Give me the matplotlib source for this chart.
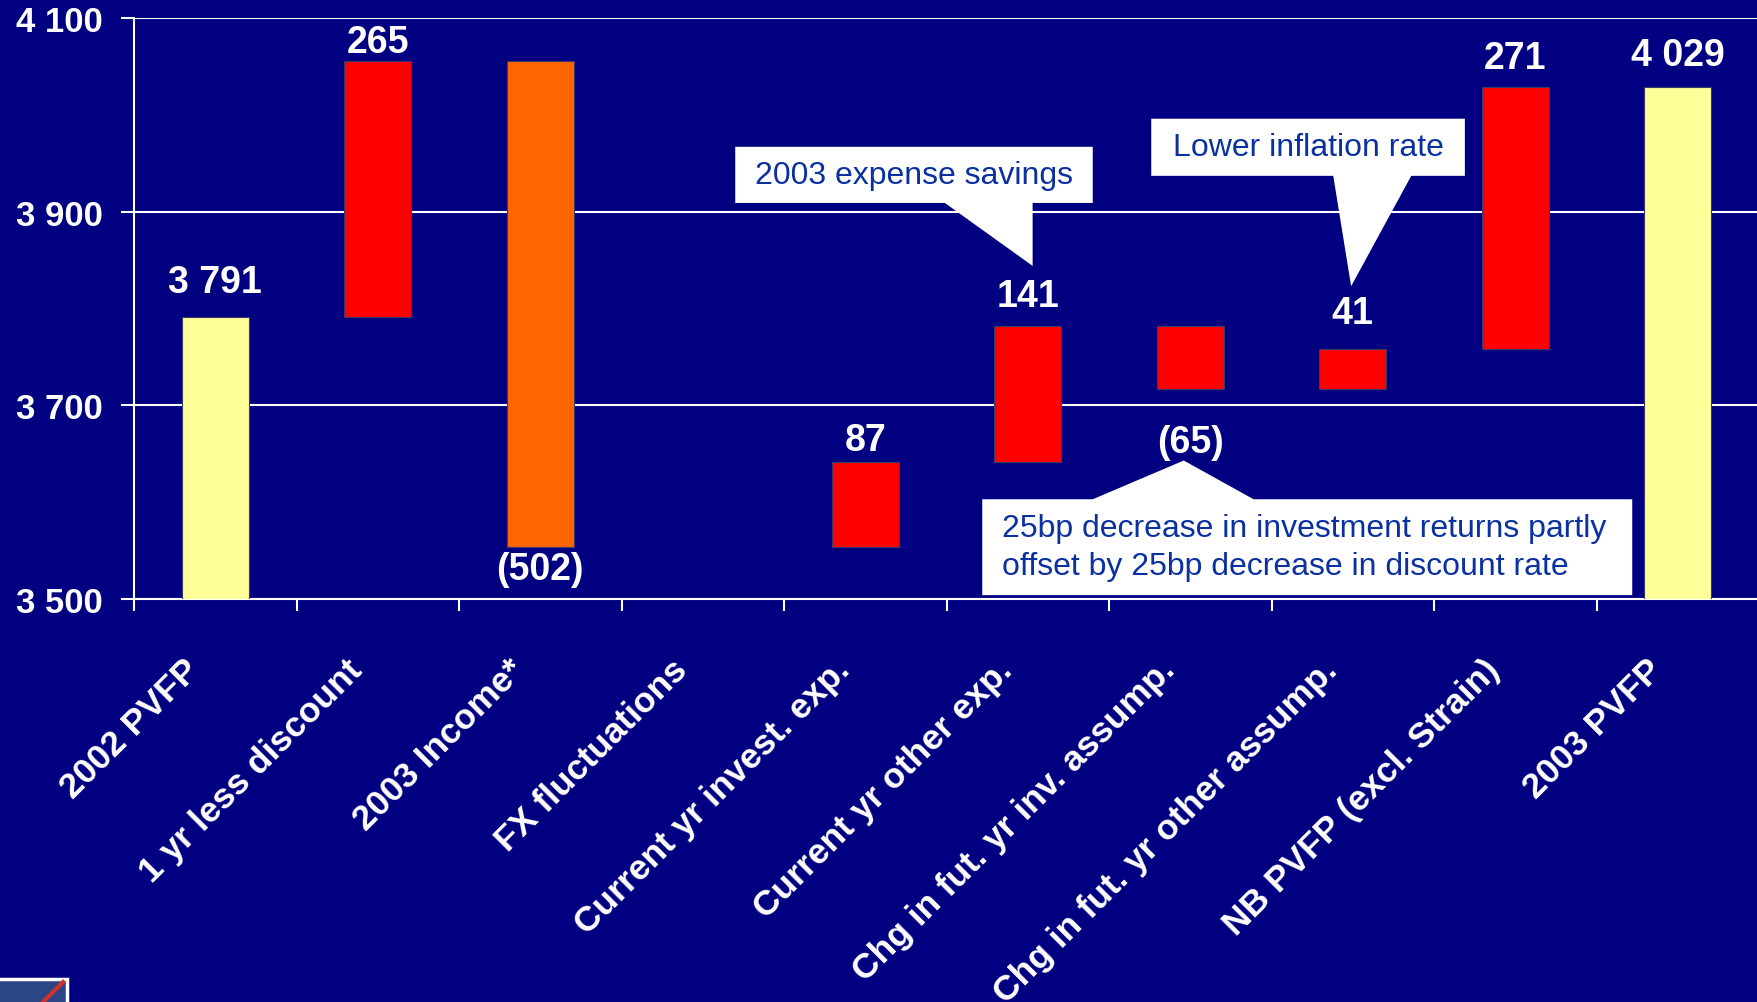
#!/usr/bin/env python3
"""Waterfall: 2002 PVFP to 2003 PVFP bridge."""
import matplotlib
matplotlib.use("Agg")
import matplotlib.pyplot as plt
import matplotlib.transforms as mtransforms
from matplotlib.lines import Line2D
from matplotlib.patches import Polygon, Rectangle
from matplotlib.ticker import FixedLocator, FuncFormatter
import numpy as np

# ---- data ----
categories = [
    "2002 PVFP",
    "1 yr less discount",
    "2003 Income*",
    "FX fluctuations",
    "Current yr invest. exp.",
    "Current yr other exp.",
    "Chg in fut. yr inv. assump.",
    "Chg in fut. yr other assump.",
    "NB PVFP (excl. Strain)",
    "2003 PVFP",
]
start_value = 3791
changes = [265, -502, 0, 87, 141, -65, 41, 271]
y_ticks = [3500, 3700, 3900, 4100]

callout_texts = [
    "2003 expense savings",
    "Lower inflation rate",
    "25bp decrease in investment returns partly\noffset by 25bp decrease in discount rate",
]

# ---- style / layout ----
BG = "#000080"
RED = "#FF0000"
ORANGE = "#FF6600"
YELLOW = "#FFFF99"
CALLOUT_TXT = "#0B31A0"
FONT = "Liberation Sans"

# gap between value label and bar end, in points
label_gap_pt = [18, 6, 3, 0, 9, 14, 25.5, 18.5, 13.5, 15.5]

# callout geometry in data units: box (x0, x1, y0, y1), pointer base (xa, xb), apex (x, y)
callouts = [
    dict(box=(3.20, 5.40, 3909, 3967), base=(4.49, 5.03), apex=(5.03, 3844), ha="center"),
    dict(box=(5.76, 7.69, 3937, 3996), base=(6.88, 7.36), apex=(6.99, 3823), ha="center"),
    dict(box=(4.72, 8.72, 3504, 3603), base=(5.40, 6.39), apex=(5.96, 3643), ha="left"),
]


def fmt_thousands(v):
    return f"{int(v):,}".replace(",", " ")


def main():
    plt.rcParams["font.family"] = [FONT, "DejaVu Sans"]

    fig = plt.figure(figsize=(17.57, 10.03), dpi=100, facecolor=BG)
    ax = fig.add_axes([134 / 1757, 1 - 600 / 1003, 1625 / 1757, 581 / 1003])
    ax.set_facecolor(BG)

    n = len(categories)
    x = np.arange(n)
    levels = np.concatenate([[start_value], start_value + np.cumsum(changes)])
    end_value = levels[-1]

    width = 0.41
    edge = dict(edgecolor="#3a3a6a", linewidth=0.8, zorder=3)

    # totals
    ax.bar(x[0], start_value, width=width, color=YELLOW, **edge)
    ax.bar(x[-1], end_value, width=width, color=YELLOW, **edge)

    labels = [fmt_thousands(start_value)]
    tops = [start_value]
    bottoms = [None]
    for i, d in enumerate(changes):
        k = i + 1
        lo = min(levels[i], levels[i + 1])
        hi = max(levels[i], levels[i + 1])
        color = ORANGE if categories[k] == "2003 Income*" else RED
        if d != 0:
            ax.bar(x[k], hi - lo, bottom=lo, width=width, color=color, **edge)
        labels.append("" if d == 0 else (str(d) if d > 0 else f"({-d})"))
        tops.append(hi)
        bottoms.append(lo)
    labels.append(fmt_thousands(end_value))
    tops.append(end_value)
    bottoms.append(None)

    # value labels
    for k in range(n):
        if not labels[k]:
            continue
        neg = k not in (0, n - 1) and changes[k - 1] < 0
        gap = label_gap_pt[k]
        if neg:
            tr = mtransforms.offset_copy(ax.transData, fig=fig, x=0, y=-gap, units="points")
            ax.text(x[k], bottoms[k], labels[k], transform=tr, ha="center", va="top",
                    color="white", fontsize=27, fontweight="bold", zorder=5)
        else:
            tr = mtransforms.offset_copy(ax.transData, fig=fig, x=0, y=gap, units="points")
            ax.text(x[k], tops[k], labels[k], transform=tr, ha="center", va="baseline",
                    color="white", fontsize=27, fontweight="bold", zorder=5)

    # axes styling
    ax.set_xlim(-0.5, n - 0.5)
    ax.set_ylim(y_ticks[0], y_ticks[-1])
    for side in ("top", "right"):
        ax.spines[side].set_visible(False)
    for side in ("left", "bottom"):
        ax.spines[side].set_color("white")
        ax.spines[side].set_linewidth(1.5)

    ax.yaxis.set_major_locator(FixedLocator(y_ticks))
    ax.yaxis.set_major_formatter(FuncFormatter(lambda v, p: fmt_thousands(v)))
    ax.tick_params(axis="y", colors="white", length=9.4, width=1.5, pad=13,
                   labelsize=25)
    for t in ax.get_yticklabels():
        t.set_fontweight("bold")

    ax.xaxis.set_major_locator(FixedLocator(np.arange(n) - 0.5))
    ax.xaxis.set_major_formatter(FuncFormatter(lambda v, p: ""))
    ax.tick_params(axis="x", colors="white", length=8.6, width=1.5, direction="out")

    ax.grid(axis="y", color="white", linewidth=1.5)
    ax.set_axisbelow(True)

    # category labels, rotated (the lowest ones run off the slide, as in the original)
    lab_tr = mtransforms.offset_copy(ax.transData, fig=fig, x=-15, y=-47, units="points")
    for k, name in enumerate(categories):
        ax.text(x[k], y_ticks[0], name, transform=lab_tr, rotation=45,
                rotation_mode="anchor", ha="right", va="center", color="white",
                fontsize=25.5, fontweight="bold", clip_on=False)

    # callouts
    for c, txt in zip(callouts, callout_texts):
        x0, x1, y0, y1 = c["box"]
        xa, xb = c["base"]
        apx, apy = c["apex"]
        if apy < y0:
            verts = [(x0, y1), (x1, y1), (x1, y0), (xb, y0), (apx, apy), (xa, y0), (x0, y0)]
        else:
            verts = [(x0, y0), (x1, y0), (x1, y1), (xb, y1), (apx, apy), (xa, y1), (x0, y1)]
        ax.add_patch(Polygon(verts, closed=True, facecolor="white", edgecolor="none",
                             zorder=4))
        ym = (y0 + y1) / 2
        if c["ha"] == "center":
            tx = (x0 + x1) / 2
        else:
            tx = x0 + 0.12
        ax.text(tx, ym, txt, ha=c["ha"], va="center", color=CALLOUT_TXT,
                fontsize=23, linespacing=1.35, zorder=5)

    # small logo corner at bottom left
    fig.add_artist(Rectangle((-0.01, -0.01), 0.01 + 67 / 1757, 0.01 + 23 / 1003,
                             transform=fig.transFigure, facecolor="#2c4585",
                             edgecolor="white", linewidth=2.5))
    fig.add_artist(Line2D([43 / 1757, 63 / 1757], [0, 20 / 1003],
                          transform=fig.transFigure, color="#d03030", linewidth=3))

    fig.savefig("out.png", dpi=100, facecolor=BG)
    plt.close(fig)
    return 0


if __name__ == "__main__":
    raise SystemExit(main())
